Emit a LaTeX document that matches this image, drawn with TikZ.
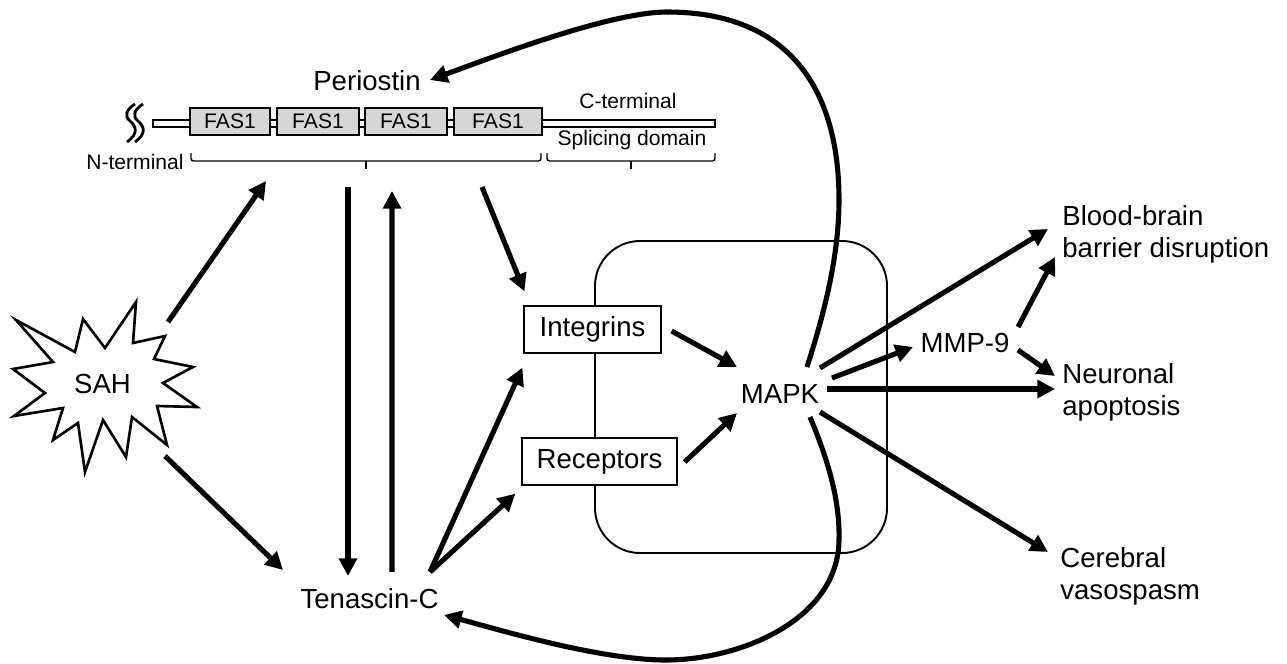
\documentclass[tikz,border=0pt]{standalone}
\usepackage{fontspec}
\setmainfont{Liberation Sans}
\usetikzlibrary{arrows.meta}
\definecolor{fasgray}{RGB}{214,214,214}
\begin{document}
\begin{tikzpicture}[x=0.02cm,y=-0.02cm,
  arr/.style={line width=2.9pt,-{Triangle[length=10pt,width=10pt]}},
  curv/.style={line width=2.9pt,-{Triangle[length=10pt,width=10pt]}},
  lbl/.style={font=\fontsize{15.7}{18.2}\selectfont, inner sep=0pt},
  sml/.style={font=\fontsize{12}{14}\selectfont, inner sep=0pt},
  outc/.style={lbl, align=left, anchor=north west},
  recbox/.style={draw, line width=0.7pt, fill=white, minimum height=0.94cm, inner sep=0pt, font=\fontsize{15.7}{18.2}\selectfont},
  fasbox/.style={draw, line width=1.5pt, fill=fasgray, minimum height=0.54cm, inner sep=0pt, font=\fontsize{12}{14}\selectfont},
  wave/.style={line width=1.6pt},
  brace/.style={line width=0.8pt, rounded corners=1.5pt}
]
\useasboundingbox (0,0) rectangle (1287,663);

% signalling compartment
\draw[line width=1.1pt, rounded corners=0.9cm] (595,241) rectangle (887,553);

% periostin domain structure
\draw[line width=1.2pt, fill=white] (153,120) rectangle (715,127);
\node[fasbox, minimum width=1.60cm] (fas1) at (230,121.5) {FAS1};
\node[fasbox, minimum width=1.64cm] (fas2) at (318,121.5) {FAS1};
\node[fasbox, minimum width=1.64cm] (fas3) at (406,121.5) {FAS1};
\node[fasbox, minimum width=1.76cm] (fas4) at (498,121.5) {FAS1};
\draw[wave] (135,104) .. controls (126,110) and (124,116) .. (130,121) .. controls (137,127) and (138,134) .. (127,142);
\draw[wave] (143,104) .. controls (134,110) and (132,116) .. (138,121) .. controls (145,127) and (146,134) .. (135,142);
\draw[brace] (191,153) -- (191,161) -- (541,161) -- (541,153);
\draw[line width=0.8pt] (366,161) -- (366,169);
\draw[brace] (547,153) -- (547,161) -- (715,161) -- (715,153);
\draw[line width=0.8pt] (631,161) -- (631,169);
\coordinate (pbrace) at (366,169);
\node[sml, anchor=base] (cterm) at (628,108) {C-terminal};
\node[sml, anchor=base] (splice) at (632,145) {Splicing domain};
\node[sml, anchor=base] (nterm) at (135,169) {N-terminal};

% labels
\node[lbl, anchor=base] (periostin) at (367,90) {Periostin};
\node[lbl, anchor=base] (tenascin) at (369.5,608) {Tenascin-C};
\draw[line width=1.5pt, line join=miter, fill=white]
  (16,320) -- (75,352) -- (83,319) -- (105,348) -- (136,302) -- (133,343) --
  (165,336) -- (154,359) -- (193,367) -- (163,383) -- (197,407) -- (157,406) --
  (167,445) -- (132,417) -- (126,457) -- (103,420) -- (85,472) -- (78,423) --
  (53,440) -- (63,408) -- (14,416) -- (45,393) -- (13,369) -- (53,362) -- cycle;
\node[lbl, anchor=base] (sah) at (102.5,393) {SAH};
\node[recbox, minimum width=2.74cm] (integrins) at (592.5,329.5) {Integrins};
\node[recbox, minimum width=3.10cm] (receptors) at (599.5,461.5) {Receptors};
\node[lbl, anchor=base] (mapk) at (780,403) {MAPK};
\node[lbl, anchor=base] (mmp) at (965,352) {MMP-9};
\node[outc] (bbb) at (1062,205) {Blood-brain\\barrier disruption};
\node[outc] (neur) at (1062,363) {Neuronal\\apoptosis};
\node[outc] (cere) at (1060,547) {Cerebral\\vasospasm};

% arrows
\draw[arr] ([shift={(65.5,-71)}]sah.base) -- ([shift={(-100,12)}]pbrace);
\draw[arr] ([shift={(62.5,63)}]sah.base) -- ([shift={(-86.5,-38)}]tenascin.base);
\draw[arr] ([shift={(-18,18)}]pbrace) -- ([shift={(-21.5,-32)}]tenascin.base);
\draw[arr] ([shift={(22.5,-36)}]tenascin.base) -- ([shift={(26,22)}]pbrace);
\draw[arr] ([shift={(116,18)}]pbrace) -- ([shift={(1,-14)}]integrins.north west);
\draw[arr] ([shift={(60.5,-36)}]tenascin.base) -- ([shift={(-1,14)}]integrins.south west);
\draw[arr] ([shift={(60.5,-36)}]tenascin.base) -- ([shift={(-6,8)}]receptors.south west);
\draw[arr] ([shift={(10,1.5)}]integrins.east) -- ([shift={(-43,-36)}]mapk.base);
\draw[arr] ([shift={(7,0.5)}]receptors.east) -- ([shift={(-43,10)}]mapk.base);
\draw[arr] ([shift={(40,-35)}]mapk.base) -- ([shift={(-14,24)}]bbb.north west);
\draw[arr] ([shift={(52,-25)}]mapk.base) -- ([shift={(-52,-5)}]mmp.base);
\draw[arr] ([shift={(53,-25)}]mmp.base) -- ([shift={(-7,52)}]bbb.north west);
\draw[arr] ([shift={(53,-2)}]mmp.base) -- ([shift={(-7,13)}]neur.north west);
\draw[arr] ([shift={(47,-14)}]mapk.base) -- ([shift={(-7,26)}]neur.north west);
\draw[arr] ([shift={(40,9)}]mapk.base) -- ([shift={(-12,5)}]cere.north west);

% feedback curves
\draw[curv] ([shift={(27,-36)}]mapk.base) .. controls (822,320) and (839,260) .. (839,200)
  .. controls (839,90) and (790,12) .. (667,12)
  .. controls (610,12) and (490,58) .. ([shift={(63,-10)}]periostin.base);
\draw[curv] ([shift={(30,14)}]mapk.base) .. controls (828,460) and (840,500) .. (839,540)
  .. controls (838,620) and (740,660) .. (666,660)
  .. controls (600,660) and (500,630) .. ([shift={(74.5,7)}]tenascin.base);
\end{tikzpicture}
\end{document}
